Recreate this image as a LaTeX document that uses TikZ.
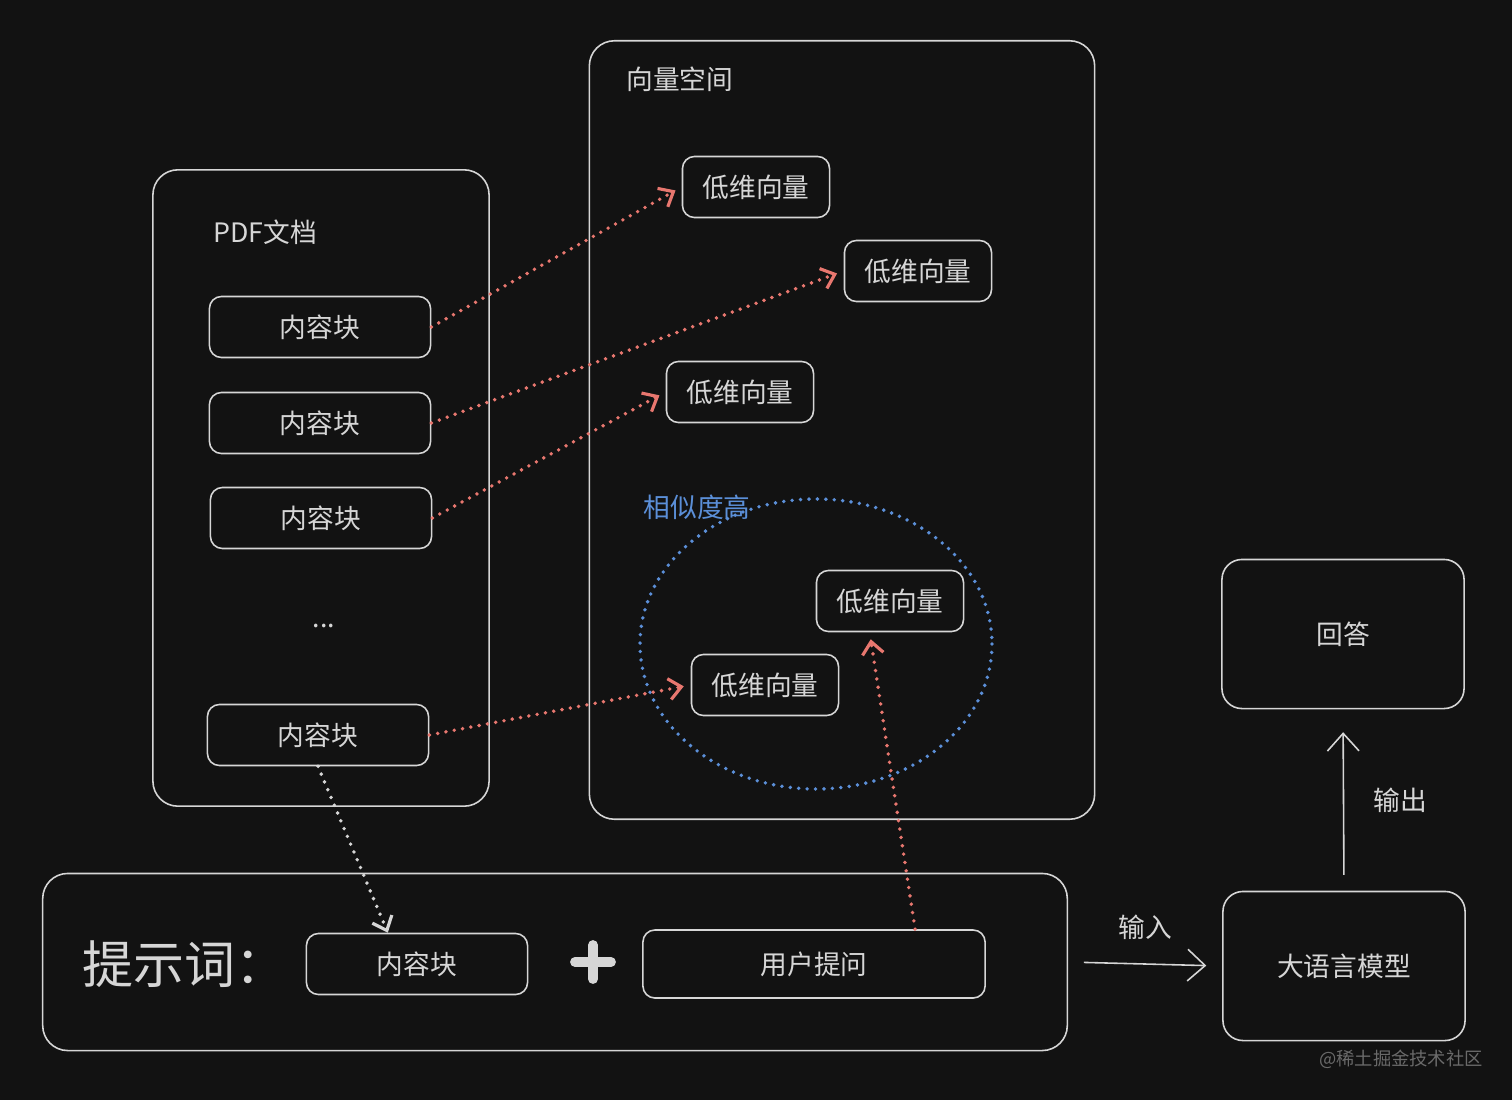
\documentclass[tikz,border=0pt]{standalone}
\usepackage{fontspec}
\setmainfont{Noto Sans CJK SC}
\usetikzlibrary{arrows.meta}
\definecolor{bgdark}{HTML}{121212}
\definecolor{edgegray}{HTML}{D6D6D6}
\definecolor{dotred}{HTML}{E8776F}
\definecolor{dotblue}{HTML}{5B8FD8}
\definecolor{markgray}{HTML}{6A6A6A}

\begin{document}
\begin{tikzpicture}[x=0.01cm, y=-0.01cm,
    txt/.style={text=edgegray, font=\fontsize{7.6}{9}\selectfont},
    box/.style={txt, draw=edgegray, line width=0.45pt, rounded corners=0.12cm},
    chunk/.style={box, minimum width=2.21cm, minimum height=0.61cm},
    vec/.style={box, minimum width=1.47cm, minimum height=0.61cm},
    panel/.style={draw=edgegray, line width=0.45pt, rounded corners=0.25cm},
    bigbox/.style={box, rounded corners=0.2cm, minimum width=2.42cm, minimum height=1.49cm},
    dots/.style={line width=1.1pt, line cap=round, dash pattern=on 0pt off 2.4pt},
    redlink/.style={dots, dotred, -{Straight Barb[length=3.5pt, width=6pt, line width=0.9pt]}, shorten >=2pt},
    whitelink/.style={dots, edgegray, -{Straight Barb[length=3.5pt, width=6pt, line width=0.9pt]}},
    flow/.style={edgegray, line width=0.45pt, -{Straight Barb[length=5pt, width=9pt]}}]

    \fill[bgdark] (0,0) rectangle (1512,1100);

    % PDF side
    \node[panel, minimum width=3.36cm, minimum height=6.36cm] (pdf) at (321,488) {};
    \node[txt, anchor=west] (pdftitle) at (201,232) {PDF文档};
    \node[chunk] (c1) at (320,327) {内容块};
    \node[chunk] (c2) at (320,423) {内容块};
    \node[chunk] (c3) at (321,518) {内容块};
    \node[txt] (more) at (324,626) {...};
    \node[chunk] (c5) at (318,735) {内容块};

    % vector space
    \node[panel, minimum width=5.05cm, minimum height=7.78cm] (space) at (842,430) {};
    \node[txt, anchor=west] (spacetitle) at (614,79) {向量空间};
    \node[vec] (v1) at (756,187) {低维向量};
    \node[vec] (v2) at (918,271) {低维向量};
    \node[vec] (v3) at (740,392) {低维向量};
    \node[vec] (v4) at (890,601) {低维向量};
    \node[vec] (v5) at (765,685) {低维向量};
    \draw[dots, dotblue] (816,644) ellipse (176 and 145);
    \node[txt, text=dotblue] (simtitle) at (697,507) {相似度高};

    % prompt
    \node[panel, minimum width=10.24cm, minimum height=1.77cm] (prompt) at (555,962) {};
    \node[txt, anchor=west, font=\fontsize{14.5}{16}\selectfont] (prompttitle) at (70,964) {提示词：};
    \node[chunk] (pc) at (417,964) {内容块};
    \draw[edgegray, line width=2.8pt, line cap=round] (575,962) -- (611,962) (593,945) -- (593,979);
    \node[box, minimum width=3.42cm, minimum height=0.68cm] (ask) at (814,964) {用户提问};

    % model
    \node[bigbox] (llm) at (1344,966) {大语言模型};
    \node[bigbox] (answer) at (1343,634) {回答};
    \node[text=markgray, font=\fontsize{5.2}{6}\selectfont] (mark) at (1401,1059) {@稀土掘金技术社区};

    \path[redlink] (c1.east) edge (v1.west);
    \path[redlink] (c2.east) edge (v2.west);
    \path[redlink] (c3.east) edge (v3.west);
    \path[redlink] (c5.east) edge (v5.west);
    \path[redlink] (ask.19) edge (v4.237);
    \path[whitelink] (c5.south) edge (pc.133);

    \path[flow, shorten <=4.5pt, shorten >=4.5pt] (prompt.east) edge node[txt, above=3.5pt] {输入} (llm.west);
    \path[flow, shorten <=4.5pt, shorten >=6.5pt] (llm.north) edge node[txt, right=5pt] {输出} (answer.south);

\end{tikzpicture}
\end{document}
